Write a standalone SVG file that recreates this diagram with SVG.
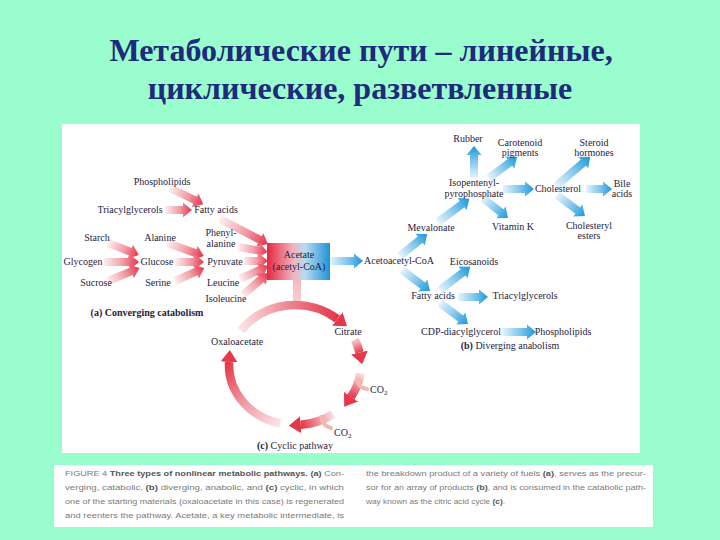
<svg xmlns="http://www.w3.org/2000/svg" width="720" height="540" viewBox="0 0 720 540">
<style>
.t{font-family:"Liberation Serif","Times New Roman",serif;font-size:10px;fill:#1f1c3c;text-anchor:middle}
.b{font-weight:bold}
.title{font-family:"Liberation Serif","Times New Roman",serif;font-size:32px;font-weight:bold;fill:#1f2a7c;text-anchor:middle}
.cap{font-family:"Liberation Sans",Arial,sans-serif;font-size:8px;fill:#7a7a7a}
.capb{font-weight:bold;fill:#555}
.ra{fill:url(#gRed)}
.ba{fill:url(#gBlue)}
.arc{fill:none;stroke-width:8.5;marker-end:url(#rh)}
.co{fill:none;stroke:#f3b9ab;stroke-width:4;stroke-linecap:round}
</style>
<defs>
<linearGradient id="gRed" x1="0" y1="0" x2="1" y2="0">
<stop offset="0" stop-color="#fdeef0"/><stop offset="0.55" stop-color="#f19aa4"/><stop offset="1" stop-color="#e5334a"/>
</linearGradient>
<linearGradient id="gBlue" x1="0" y1="0" x2="1" y2="0">
<stop offset="0" stop-color="#e6f3fb"/><stop offset="0.55" stop-color="#7cc5ec"/><stop offset="1" stop-color="#1b98d8"/>
</linearGradient>
<linearGradient id="gBox" x1="0" y1="0" x2="1" y2="0">
<stop offset="0" stop-color="#e5283f"/><stop offset="0.42" stop-color="#f2b3bf"/><stop offset="0.6" stop-color="#b9dbf1"/><stop offset="1" stop-color="#1f92d6"/>
</linearGradient>
<linearGradient id="gStem" x1="0" y1="0" x2="0" y2="1">
<stop offset="0" stop-color="#f6b9c0"/><stop offset="1" stop-color="#f8d2d6"/>
</linearGradient>
<linearGradient id="gA" gradientUnits="userSpaceOnUse" x1="241" y1="331" x2="337" y2="319">
<stop offset="0" stop-color="#fbe3e6"/><stop offset="0.5" stop-color="#ee8993"/><stop offset="1" stop-color="#e5384b"/>
</linearGradient>
<linearGradient id="gB" gradientUnits="userSpaceOnUse" x1="355" y1="340" x2="360" y2="353">
<stop offset="0" stop-color="#f8c9ce"/><stop offset="1" stop-color="#e5384b"/>
</linearGradient>
<linearGradient id="gC" gradientUnits="userSpaceOnUse" x1="360" y1="373" x2="351" y2="397">
<stop offset="0" stop-color="#fbe0e3"/><stop offset="1" stop-color="#e5384b"/>
</linearGradient>
<linearGradient id="gD" gradientUnits="userSpaceOnUse" x1="333" y1="414" x2="301" y2="425">
<stop offset="0" stop-color="#fbe0e3"/><stop offset="1" stop-color="#e5384b"/>
</linearGradient>
<linearGradient id="gE" gradientUnits="userSpaceOnUse" x1="280" y1="424" x2="229" y2="362">
<stop offset="0" stop-color="#fbe3e6"/><stop offset="0.5" stop-color="#ef99a2"/><stop offset="1" stop-color="#e5384b"/>
</linearGradient>
<marker id="rh" markerUnits="userSpaceOnUse" viewBox="0 0 12 17" markerWidth="12" markerHeight="17" refX="0" refY="8.5" orient="auto">
<path d="M0,0L12,8.5L0,17Z" fill="#e5384b"/>
</marker>
</defs>

<rect x="0" y="0" width="720" height="540" fill="#99fdcd"/>

<g id="title">
<text class="title" x="361" y="61">Метаболические пути – линейные,</text>
<text class="title" x="360" y="99">циклические, разветвленные</text>
</g>

<rect id="panel" x="62" y="124" width="578" height="329" fill="#ffffff"/>
<rect id="caption-panel" x="54" y="465" width="599" height="62" fill="#ffffff"/>

<g id="connectors">
<!-- converging (red) -->
<path class="ra" transform="translate(170,188) rotate(25.9)" d="M0,-4H28V-7.5L37,0L28,7.5V4H0Z"/>
<path class="ra" transform="translate(165,210)" d="M0,-4H18V-7.5L27,0L18,7.5V4H0Z"/>
<path class="ra" transform="translate(220,219) rotate(27.5)" d="M0,-4H45V-7.5L54,0L45,7.5V4H0Z"/>
<path class="ra" transform="translate(238,247) rotate(9.5)" d="M0,-4H21V-7.5L30,0L21,7.5V4H0Z"/>
<path class="ra" transform="translate(244,261)" d="M0,-4H15V-7.5L24,0L15,7.5V4H0Z"/>
<path class="ra" transform="translate(240,279) rotate(-24.9)" d="M0,-4H22V-7.5L31,0L22,7.5V4H0Z"/>
<path class="ra" transform="translate(243,295) rotate(-41.3)" d="M0,-4H24V-7.5L33,0L24,7.5V4H0Z"/>
<path class="ra" transform="translate(108,243) rotate(21.2)" d="M0,-4H24V-7.5L33,0L24,7.5V4H0Z"/>
<path class="ra" transform="translate(104,262)" d="M0,-4H26V-7.5L35,0L26,7.5V4H0Z"/>
<path class="ra" transform="translate(108,281) rotate(-22.7)" d="M0,-4H25V-7.5L34,0L25,7.5V4H0Z"/>
<path class="ra" transform="translate(167,243) rotate(19.4)" d="M0,-4H30V-7.5L39,0L30,7.5V4H0Z"/>
<path class="ra" transform="translate(175,262)" d="M0,-4H20V-7.5L29,0L20,7.5V4H0Z"/>
<path class="ra" transform="translate(175,281) rotate(-24.1)" d="M0,-4H23V-7.5L32,0L23,7.5V4H0Z"/>
<!-- diverging (blue) -->
<path class="ba" transform="translate(330,261)" d="M0,-4H24V-7.5L33,0L24,7.5V4H0Z"/>
<path class="ba" transform="translate(400,256) rotate(-39.2)" d="M0,-4H26V-7.5L35,0L26,7.5V4H0Z"/>
<path class="ba" transform="translate(438,222) rotate(-36.6)" d="M0,-4H30V-7.5L39,0L30,7.5V4H0Z"/>
<path class="ba" transform="translate(474,178) rotate(-90)" d="M0,-4H23V-7.5L32,0L23,7.5V4H0Z"/>
<path class="ba" transform="translate(489,178) rotate(-36.9)" d="M0,-4H26V-7.5L35,0L26,7.5V4H0Z"/>
<path class="ba" transform="translate(483,198) rotate(38.7)" d="M0,-4H23V-7.5L32,0L23,7.5V4H0Z"/>
<path class="ba" transform="translate(503,189)" d="M0,-4H22V-7.5L31,0L22,7.5V4H0Z"/>
<path class="ba" transform="translate(556,186) rotate(-40.5)" d="M0,-4H36V-7.5L45,0L36,7.5V4H0Z"/>
<path class="ba" transform="translate(586,189)" d="M0,-4H17V-7.5L26,0L17,7.5V4H0Z"/>
<path class="ba" transform="translate(557,195) rotate(36.9)" d="M0,-4H26V-7.5L35,0L26,7.5V4H0Z"/>
<path class="ba" transform="translate(402,270) rotate(36.9)" d="M0,-4H26V-7.5L35,0L26,7.5V4H0Z"/>
<path class="ba" transform="translate(440,290) rotate(-37.5)" d="M0,-4H29V-7.5L38,0L29,7.5V4H0Z"/>
<path class="ba" transform="translate(458,297)" d="M0,-4H21V-7.5L30,0L21,7.5V4H0Z"/>
<path class="ba" transform="translate(440,303) rotate(36.9)" d="M0,-4H26V-7.5L35,0L26,7.5V4H0Z"/>
<path class="ba" transform="translate(502,332)" d="M0,-4H25V-7.5L34,0L25,7.5V4H0Z"/>
<!-- cyclic -->
<rect x="293" y="280" width="8" height="27" fill="url(#gStem)"/>
<path class="arc" stroke="url(#gA)" d="M241,330.6A66,60 0 0 1 337.4,319"/>
<path class="arc" stroke="url(#gB)" d="M354.8,339.6A66,60 0 0 1 359.5,352.5"/>
<path class="arc" stroke="url(#gC)" d="M360.4,373.4A66,60 0 0 1 351,396.8"/>
<path class="arc" stroke="url(#gD)" d="M332.9,414.1A66,60 0 0 1 300.8,424.8"/>
<path class="arc" stroke="url(#gE)" d="M280.2,423.5A66,60 0 0 1 229.1,361.9"/>
<path class="co" d="M357,380Q359,388 367,389"/>
<path class="co" d="M321,417Q323,426 331,428"/>
</g>

<g id="n-phospholipids-a"><text class="t" x="162" y="185">Phospholipids</text></g>
<g id="n-triacylglycerols-a"><text class="t" x="130" y="213">Triacylglycerols</text></g>
<g id="n-fattyacids-a"><text class="t" x="216" y="213">Fatty acids</text></g>
<g id="n-phenylalanine"><text class="t" x="221" y="236">Phenyl-</text><text class="t" x="221" y="247">alanine</text></g>
<g id="n-starch"><text class="t" x="97" y="241">Starch</text></g>
<g id="n-glycogen"><text class="t" x="83" y="265">Glycogen</text></g>
<g id="n-sucrose"><text class="t" x="96" y="286">Sucrose</text></g>
<g id="n-alanine"><text class="t" x="160" y="241">Alanine</text></g>
<g id="n-glucose"><text class="t" x="157" y="265">Glucose</text></g>
<g id="n-serine"><text class="t" x="158" y="286">Serine</text></g>
<g id="n-pyruvate"><text class="t" x="225" y="265">Pyruvate</text></g>
<g id="n-leucine"><text class="t" x="223" y="286">Leucine</text></g>
<g id="n-isoleucine"><text class="t" x="226" y="302">Isoleucine</text></g>
<g id="label-a"><text class="t b" x="147" y="316">(a) Converging catabolism</text></g>

<g id="n-acetate">
<rect x="267" y="243" width="63" height="37" fill="url(#gBox)"/>
<text class="t" x="299" y="258">Acetate</text>
<text class="t" x="299" y="270">(acetyl-CoA)</text>
</g>

<g id="n-acetoacetyl"><text class="t" x="399" y="264">Acetoacetyl-CoA</text></g>
<g id="n-mevalonate"><text class="t" x="431" y="231">Mevalonate</text></g>
<g id="n-isopentenyl"><text class="t" x="474" y="186">Isopentenyl-</text><text class="t" x="474" y="197">pyrophosphate</text></g>
<g id="n-rubber"><text class="t" x="468" y="142">Rubber</text></g>
<g id="n-carotenoid"><text class="t" x="520" y="146">Carotenoid</text><text class="t" x="520" y="156">pigments</text></g>
<g id="n-vitamink"><text class="t" x="513" y="230">Vitamin K</text></g>
<g id="n-cholesterol"><text class="t" x="558" y="192">Cholesterol</text></g>
<g id="n-steroid"><text class="t" x="594" y="146">Steroid</text><text class="t" x="594" y="156">hormones</text></g>
<g id="n-bile"><text class="t" x="622" y="187">Bile</text><text class="t" x="622" y="197">acids</text></g>
<g id="n-cholesteryl"><text class="t" x="589" y="229">Cholesteryl</text><text class="t" x="589" y="239">esters</text></g>
<g id="n-eicosanoids"><text class="t" x="474" y="265">Eicosanoids</text></g>
<g id="n-fattyacids-b"><text class="t" x="433" y="299">Fatty acids</text></g>
<g id="n-triacylglycerols-b"><text class="t" x="525" y="299">Triacylglycerols</text></g>
<g id="n-cdp"><text class="t" x="461" y="335">CDP-diacylglycerol</text></g>
<g id="n-phospholipids-b"><text class="t" x="563" y="335">Phospholipids</text></g>
<g id="label-b"><text class="t" x="510" y="349"><tspan class="b">(b)</tspan> Diverging anabolism</text></g>

<g id="n-citrate"><text class="t" x="348" y="335">Citrate</text></g>
<g id="n-oxaloacetate"><text class="t" x="237" y="345">Oxaloacetate</text></g>
<g id="n-co2-1"><text class="t" x="370" y="393" style="text-anchor:start">CO<tspan font-size="7" dy="2">2</tspan></text></g>
<g id="n-co2-2"><text class="t" x="334" y="436" style="text-anchor:start">CO<tspan font-size="7" dy="2">2</tspan></text></g>
<g id="label-c"><text class="t" x="295" y="449"><tspan class="b">(c)</tspan> Cyclic pathway</text></g>

<g id="caption">
<text class="cap" x="65" y="476" textLength="279" lengthAdjust="spacingAndGlyphs">FIGURE 4  <tspan class="capb">Three types of nonlinear metabolic pathways.</tspan> <tspan class="capb">(a)</tspan> Con-</text>
<text class="cap" x="65" y="490" textLength="279" lengthAdjust="spacingAndGlyphs">verging, catabolic, <tspan class="capb">(b)</tspan> diverging, anabolic, and <tspan class="capb">(c)</tspan> cyclic, in which</text>
<text class="cap" x="65" y="504" textLength="279" lengthAdjust="spacingAndGlyphs">one of the starting materials (oxaloacetate in this case) is regenerated</text>
<text class="cap" x="65" y="518" textLength="279" lengthAdjust="spacingAndGlyphs">and reenters the pathway. Acetate, a key metabolic intermediate, is</text>
<text class="cap" x="366" y="476" textLength="280" lengthAdjust="spacingAndGlyphs">the breakdown product of a variety of fuels <tspan class="capb">(a)</tspan>, serves as the precur-</text>
<text class="cap" x="366" y="490" textLength="280" lengthAdjust="spacingAndGlyphs">sor for an array of products <tspan class="capb">(b)</tspan>, and is consumed in the catabolic path-</text>
<text class="cap" x="366" y="504" textLength="139" lengthAdjust="spacingAndGlyphs">way known as the citric acid cycle <tspan class="capb">(c)</tspan>.</text>
</g>
</svg>
